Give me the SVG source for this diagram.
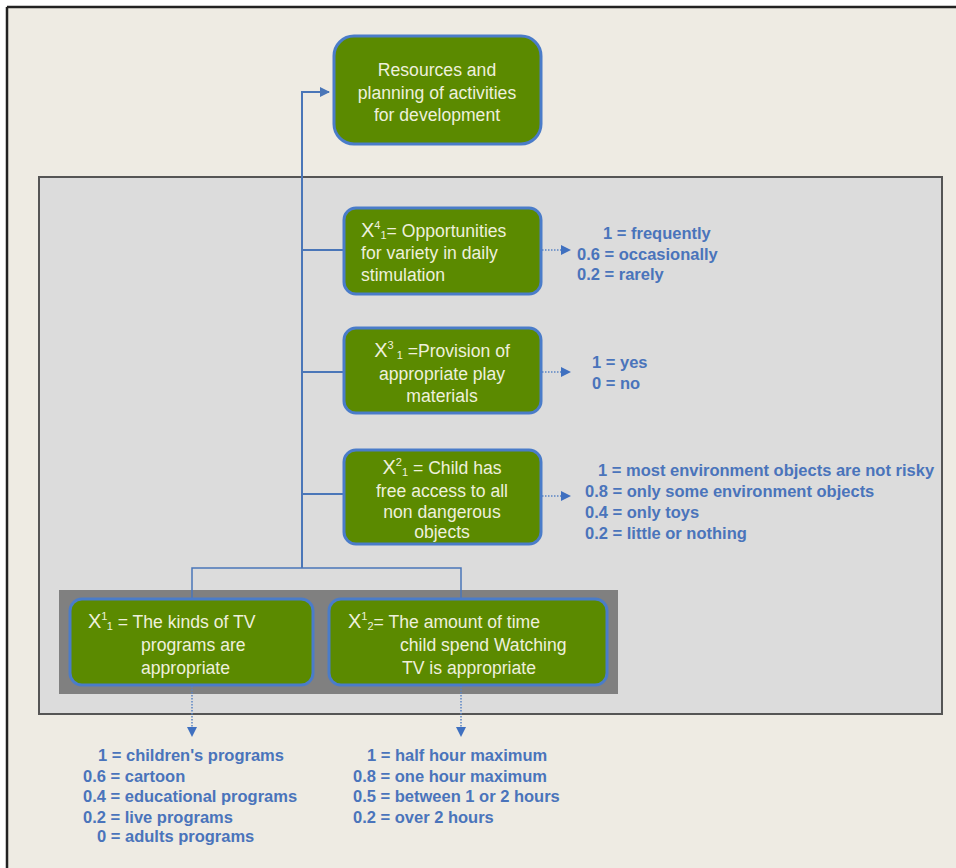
<svg xmlns="http://www.w3.org/2000/svg" width="956" height="868" viewBox="0 0 956 868">
<defs>
<style>
.node rect{fill:#5b8a00;stroke:#4a7cc9;stroke-width:3}
.nt{font-family:"Liberation Sans",Arial,sans-serif;font-size:17.6px;fill:#eef0dc}
.big{font-size:20px}
.sm{font-size:11px}
.lst{font-family:"Liberation Sans",Arial,sans-serif;font-size:16.5px;font-weight:bold;fill:#4a74bb}
.con{stroke:#4a76b8;stroke-width:2;fill:none}
.dot{stroke:#5a84c4;stroke-width:1.5;fill:none;stroke-dasharray:1.5 1.5}
.tri{fill:#3f70c0}
</style>
<marker id="ah" viewBox="0 0 10 10" refX="9" refY="5" markerWidth="5" markerHeight="5" orient="auto" markerUnits="strokeWidth"><path d="M0,0 L10,5 L0,10 z" fill="#4a76b8"/></marker>
</defs>
<rect x="0" y="0" width="956" height="868" fill="#eeebe3"/>
<rect x="0" y="0" width="956" height="6" fill="#ffffff"/>
<rect x="0" y="0" width="6" height="868" fill="#ffffff"/>
<line x1="7" y1="7" x2="956" y2="7" stroke="#222" stroke-width="2.5"/>
<line x1="7" y1="7" x2="7" y2="868" stroke="#222" stroke-width="2.5"/>
<rect x="39" y="177" width="903" height="537" fill="#dcdcdc" stroke="#555" stroke-width="2"/>
<rect x="59" y="590" width="559" height="104" fill="#808080"/>

<g id="connectors">
<polyline class="con" points="302,568 302,92 329,92" marker-end="url(#ah)"/>
<line class="con" x1="302" y1="250" x2="343" y2="250"/>
<line class="con" x1="302" y1="372" x2="343" y2="372"/>
<line class="con" x1="302" y1="494" x2="343" y2="494"/>
<polyline class="con" points="192,599 192,568 461,568 461,599" style="stroke-width:1.5"/>
<line class="dot" x1="542" y1="250" x2="562" y2="250"/>
<path class="tri" d="M561,245 L571,250 L561,255 z"/>
<line class="dot" x1="542" y1="372" x2="562" y2="372"/>
<path class="tri" d="M561,367 L571,372 L561,377 z"/>
<line class="dot" x1="542" y1="496" x2="562" y2="496"/>
<path class="tri" d="M561,491 L571,496 L561,501 z"/>
<line class="dot" x1="192" y1="686" x2="192" y2="728"/>
<path class="tri" d="M187,727 L192,737 L197,727 z"/>
<line class="dot" x1="461" y1="686" x2="461" y2="728"/>
<path class="tri" d="M456,727 L461,737 L466,727 z"/>
</g>

<g id="top" class="node">
<rect x="334" y="36" width="207" height="108" rx="20"/>
<text class="nt" text-anchor="middle"><tspan x="437" y="76">Resources and</tspan><tspan x="437" y="99">planning of activities</tspan><tspan x="437" y="121">for development</tspan></text>
</g>

<g id="x41" class="node">
<rect x="344" y="208" width="197" height="86" rx="12"/>
<text class="nt"><tspan x="361" y="237"><tspan class="big">X</tspan><tspan class="sm" dy="-8">4</tspan><tspan class="sm" dy="10">1</tspan><tspan dy="-2">= Opportunities</tspan></tspan><tspan x="361" y="259">for variety in daily</tspan><tspan x="361" y="281">stimulation</tspan></text>
</g>

<g id="x31" class="node">
<rect x="344" y="328" width="197" height="85" rx="12"/>
<text class="nt" text-anchor="middle"><tspan x="442" y="357"><tspan class="big">X</tspan><tspan class="sm" dy="-8">3</tspan><tspan class="sm" dy="10"> 1</tspan><tspan dy="-2"> =Provision of</tspan></tspan><tspan x="442" y="380">appropriate play</tspan><tspan x="442" y="402">materials</tspan></text>
</g>

<g id="x21" class="node">
<rect x="344" y="450" width="197" height="94" rx="12"/>
<text class="nt" text-anchor="middle"><tspan x="442" y="474"><tspan class="big">X</tspan><tspan class="sm" dy="-8">2</tspan><tspan class="sm" dy="10">1</tspan><tspan dy="-2"> = Child has</tspan></tspan><tspan x="442" y="497">free access to all</tspan><tspan x="442" y="518">non dangerous</tspan><tspan x="442" y="538">objects</tspan></text>
</g>

<g id="x11" class="node">
<rect x="70" y="599" width="243" height="86" rx="12"/>
<text class="nt"><tspan x="88" y="628"><tspan class="big">X</tspan><tspan class="sm" dy="-8">1</tspan><tspan class="sm" dy="10">1</tspan><tspan dy="-2"> = The kinds of TV</tspan></tspan><tspan x="141" y="651">programs are</tspan><tspan x="141" y="674">appropriate</tspan></text>
</g>

<g id="x12" class="node">
<rect x="329" y="599" width="278" height="86" rx="12"/>
<text class="nt"><tspan x="348" y="628"><tspan class="big">X</tspan><tspan class="sm" dy="-8">1</tspan><tspan class="sm" dy="10">2</tspan><tspan dy="-2">= The amount of time</tspan></tspan><tspan x="400" y="651">child spend Watching</tspan><tspan x="402" y="674">TV is appropriate</tspan></text>
</g>

<g id="list4">
<text class="lst"><tspan x="603" y="239">1 = frequently</tspan><tspan x="577" y="260">0.6 = occasionally</tspan><tspan x="577" y="280">0.2 = rarely</tspan></text>
</g>
<g id="list3">
<text class="lst"><tspan x="592" y="368">1 = yes</tspan><tspan x="592" y="389">0 = no</tspan></text>
</g>
<g id="list2">
<text class="lst"><tspan x="598" y="476">1 = most environment objects are not risky</tspan><tspan x="585" y="497">0.8 = only some environment objects</tspan><tspan x="585" y="518">0.4 = only toys</tspan><tspan x="585" y="539">0.2 = little or nothing</tspan></text>
</g>
<g id="list11">
<text class="lst"><tspan x="98" y="761">1 = children's programs</tspan><tspan x="83" y="782">0.6 = cartoon</tspan><tspan x="83" y="802">0.4 = educational programs</tspan><tspan x="83" y="823">0.2 = live programs</tspan><tspan x="97" y="842">0 = adults programs</tspan></text>
</g>
<g id="list12">
<text class="lst"><tspan x="367" y="761">1 = half hour maximum</tspan><tspan x="353" y="782">0.8 = one hour maximum</tspan><tspan x="353" y="802">0.5 = between 1 or 2 hours</tspan><tspan x="353" y="823">0.2 = over 2 hours</tspan></text>
</g>
</svg>
